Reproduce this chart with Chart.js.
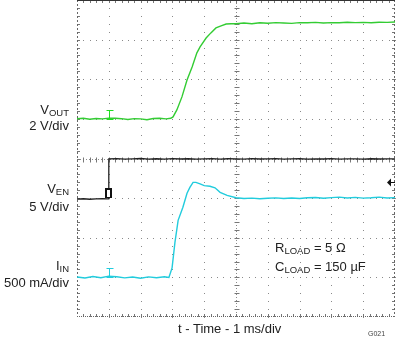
<!DOCTYPE html>
<html>
<head>
<meta charset="utf-8">
<script src="https://cdn.jsdelivr.net/npm/chart.js@4/dist/chart.umd.min.js"></script>
<style>
  html, body { margin: 0; padding: 0; background: #fff; }
  #wrap { position: relative; width: 396px; height: 341px; overflow: hidden; }
  #c { position: absolute; left: 0; top: 0; }
  .lbl { position: absolute; font-family: "Liberation Sans", Arial, sans-serif; font-size: 13px; line-height: 15px; color: #222; white-space: nowrap; }
  .r { text-align: right; width: 69px; left: 0; }
  .sub { font-size: 9.5px; position: relative; top: 2px; }
  .g { font-size: 7px; line-height: 8px; color: #444; }
</style>
</head>
<body>
<div id="wrap">
  <canvas id="c" width="396" height="341"></canvas>
  <div class="lbl r" style="top:102px">V<span class="sub">OUT</span></div>
  <div class="lbl r" style="top:118px">2 V/div</div>
  <div class="lbl r" style="top:181px">V<span class="sub">EN</span></div>
  <div class="lbl r" style="top:199px">5 V/div</div>
  <div class="lbl r" style="top:258px">I<span class="sub">IN</span></div>
  <div class="lbl r" style="top:275px">500 mA/div</div>
  <div class="lbl" style="left:275px; top:240px">R<span class="sub">LOAD</span> = 5 Ω</div>
  <div class="lbl" style="left:275px; top:259px">C<span class="sub">LOAD</span> = 150 µF</div>
  <div class="lbl" style="left:178px; top:321px">t - Time - 1 ms/div</div>
  <div class="lbl g" style="left:368px; top:330px">G021</div>
</div>
<script>
// ---- Data (time in ms, V_OUT in V, V_EN in V, I_IN in mA) ----
const voutTime = [0,0.2,0.4,0.6,0.8,1.0,1.2,1.4,1.6,1.8,2.0,2.2,2.4,2.6,2.8,2.95,3.02,3.14,3.30,3.46,3.62,3.77,3.87,4.06,4.21,4.37,4.53,4.69,4.85,5.0,5.25,5.5,5.75,6.0,6.25,6.5,6.75,7.0,7.25,7.5,7.75,8.0,8.25,8.5,8.75,9.0,9.25,9.5,9.75,10.0];
const voutValues = [0.01,0.03,-0.02,0.02,0.0,0.04,0.03,0.01,-0.03,0.01,0.0,-0.04,0.02,0.03,0.0,0.03,0.10,0.45,1.11,1.96,2.62,3.33,3.63,4.08,4.34,4.59,4.69,4.79,4.80,4.80,4.84,4.80,4.85,4.83,4.86,4.84,4.82,4.86,4.85,4.87,4.84,4.86,4.85,4.88,4.86,4.87,4.85,4.88,4.87,4.89];

const venTime = [0,0.2,0.4,0.6,0.8,0.98,1.0,1.25,1.5,1.75,2.0,2.25,2.5,2.75,3.0,3.25,3.5,3.75,4.0,4.25,4.5,4.75,5.0,5.25,5.5,5.75,6.0,6.25,6.5,6.75,7.0,7.25,7.5,7.75,8.0,8.25,8.5,8.75,9.0,9.25,9.5,9.75,10.0];
const venValues = [-0.12,-0.08,-0.14,-0.1,-0.06,-0.1,4.95,4.98,4.92,4.96,5.0,4.93,4.97,4.92,4.99,4.94,4.97,4.91,4.96,4.98,4.93,4.97,4.95,4.92,4.98,4.94,4.96,4.99,4.93,4.95,4.97,4.92,4.96,4.94,4.98,4.93,4.96,4.95,4.92,4.97,4.94,4.96,4.95];

const iinTime = [0,0.25,0.5,0.75,1.0,1.25,1.5,1.75,2.0,2.25,2.5,2.75,2.89,2.99,3.08,3.18,3.33,3.46,3.55,3.65,3.74,3.87,4.0,4.18,4.34,4.50,4.72,5.0,5.25,5.5,5.75,6.0,6.25,6.5,6.75,7.0,7.25,7.5,7.75,8.0,8.25,8.5,8.75,9.0,9.25,9.5,9.75,10.0];
const iinValues = [5,-8,10,-5,15,8,-6,4,-10,6,-4,8,0,120,442,720,884,1061,1136,1199,1199,1180,1158,1150,1130,1073,1035,1005,995,1000,992,998,1003,995,1001,996,1004,1008,998,1006,1012,1002,1010,1000,1004,1012,1001,1006];

// channel settings (units / div, ground position in divisions from bottom)
const channels = {
  vout: { perDiv: 2,   ground: 5 },
  ven:  { perDiv: 5,   ground: 3 },
  iin:  { perDiv: 500, ground: 1 }
};
const markerTime = 1.0;     // channel ground markers sit at this time
const triggerLevel = 2.0;   // V_EN trigger level (V)

function toDiv(times, vals, ch) {
  return times.map((t, i) => ({ x: t, y: ch.ground + vals[i] / ch.perDiv }));
}

const scopeGrid = {
  id: 'scopeGrid',
  beforeDatasetsDraw(chart) {
    const { ctx, chartArea: a, scales: { x, y } } = chart;
    ctx.save();
    ctx.fillStyle = '#8a8a8a';
    for (let i = 1; i < 10; i++) {
      if (i === 5) continue;
      const px = Math.round(x.getPixelForValue(i));
      for (let j = 0; j <= 40; j++) {
        const py = Math.round(y.getPixelForValue(j * 0.2));
        ctx.fillRect(px, py, 1, 1);
      }
    }
    for (let j = 1; j < 8; j++) {
      if (j === 4) continue;
      const py = Math.round(y.getPixelForValue(j));
      for (let i = 0; i <= 50; i++) {
        const px = Math.round(x.getPixelForValue(i * 0.2));
        ctx.fillRect(px, py, 1, 1);
      }
    }
    ctx.strokeStyle = '#8a8a8a';
    ctx.lineWidth = 1;
    ctx.setLineDash([1, 2]);
    const cx = Math.round(x.getPixelForValue(5)) + 0.5;
    const cy = Math.round(y.getPixelForValue(4)) + 0.5;
    ctx.beginPath();
    ctx.moveTo(cx, a.top); ctx.lineTo(cx, a.bottom);
    ctx.moveTo(a.left, cy); ctx.lineTo(a.right, cy);
    ctx.stroke();
    ctx.setLineDash([]);
    ctx.strokeStyle = '#777';
    ctx.beginPath();
    for (let j = 1; j < 40; j++) {
      const py = Math.round(y.getPixelForValue(j * 0.2)) + 0.5;
      ctx.moveTo(cx - 2, py); ctx.lineTo(cx + 3, py);
      ctx.moveTo(a.left, py); ctx.lineTo(a.left + 3, py);
      ctx.moveTo(a.right - 3, py); ctx.lineTo(a.right, py);
    }
    for (let i = 1; i < 50; i++) {
      const px = Math.round(x.getPixelForValue(i * 0.2)) + 0.5;
      ctx.moveTo(px, cy - 2); ctx.lineTo(px, cy + 3);
      ctx.moveTo(px, a.bottom - 3); ctx.lineTo(px, a.bottom);
      ctx.moveTo(px, a.top); ctx.lineTo(px, a.top + 3);
    }
    ctx.stroke();
    ctx.setLineDash([2, 2]);
    ctx.strokeStyle = '#666';
    ctx.beginPath();
    ctx.moveTo(a.left + 0.5, a.top); ctx.lineTo(a.left + 0.5, a.bottom);
    ctx.moveTo(a.right - 0.5, a.top); ctx.lineTo(a.right - 0.5, a.bottom);
    ctx.stroke();
    ctx.setLineDash([1, 1]);
    ctx.beginPath();
    ctx.moveTo(a.left, a.bottom - 0.5); ctx.lineTo(a.right, a.bottom - 0.5);
    ctx.stroke();
    ctx.setLineDash([]);
    ctx.strokeStyle = '#333';
    ctx.beginPath();
    ctx.moveTo(a.left, a.top + 0.5); ctx.lineTo(a.right, a.top + 0.5);
    ctx.stroke();
    ctx.restore();
  },
  afterDatasetsDraw(chart) {
    const { ctx, chartArea: a, scales: { x, y } } = chart;
    ctx.save();
    const mx = Math.round(x.getPixelForValue(markerTime)) + 0.5;
    const drawI = (ch, color) => {
      const yb = Math.round(y.getPixelForValue(ch.ground)) + 0.5;
      ctx.strokeStyle = color; ctx.lineWidth = 1;
      ctx.beginPath();
      ctx.moveTo(mx, yb); ctx.lineTo(mx, yb - 9);
      ctx.moveTo(mx - 3, yb - 9); ctx.lineTo(mx + 4, yb - 9);
      ctx.moveTo(mx - 3, yb); ctx.lineTo(mx + 4, yb);
      ctx.stroke();
    };
    drawI(channels.vout, '#22dd22');
    drawI(channels.iin, '#22ccdd');
    const yb = Math.round(y.getPixelForValue(channels.ven.ground));
    ctx.fillStyle = '#111';
    ctx.fillRect(mx - 4.5, yb - 10, 7, 10);
    ctx.fillStyle = '#fff';
    ctx.fillRect(mx - 2.5, yb - 8, 3, 7);
    const ty = Math.round(y.getPixelForValue(channels.ven.ground + triggerLevel / channels.ven.perDiv)) + 0.5;
    ctx.fillStyle = '#111';
    ctx.beginPath();
    ctx.moveTo(a.right - 8, ty);
    ctx.lineTo(a.right - 4, ty - 4);
    ctx.lineTo(a.right - 4, ty + 4);
    ctx.closePath();
    ctx.fill();
    ctx.strokeStyle = '#111';
    ctx.beginPath();
    ctx.moveTo(a.right - 5, ty); ctx.lineTo(a.right, ty);
    ctx.stroke();
    ctx.restore();
  }
};

new Chart(document.getElementById('c'), {
  type: 'line',
  data: {
    datasets: [
      { label: 'V_EN', data: toDiv(venTime, venValues, channels.ven), borderColor: '#222', borderWidth: 1.3 },
      { label: 'I_IN', data: toDiv(iinTime, iinValues, channels.iin), borderColor: '#22ccdd', borderWidth: 1.4 },
      { label: 'V_OUT', data: toDiv(voutTime, voutValues, channels.vout), borderColor: '#33cc33', borderWidth: 1.4 }
    ]
  },
  options: {
    responsive: false,
    animation: false,
    devicePixelRatio: 1,
    layout: { padding: { left: 77, right: 1, top: 0, bottom: 24 } },
    elements: { point: { radius: 0 }, line: { tension: 0 } },
    plugins: { legend: { display: false }, tooltip: { enabled: false } },
    scales: {
      x: { type: 'linear', min: 0, max: 10, display: false },
      y: { type: 'linear', min: 0, max: 8, display: false }
    }
  },
  plugins: [scopeGrid]
});
</script>
</body>
</html>
